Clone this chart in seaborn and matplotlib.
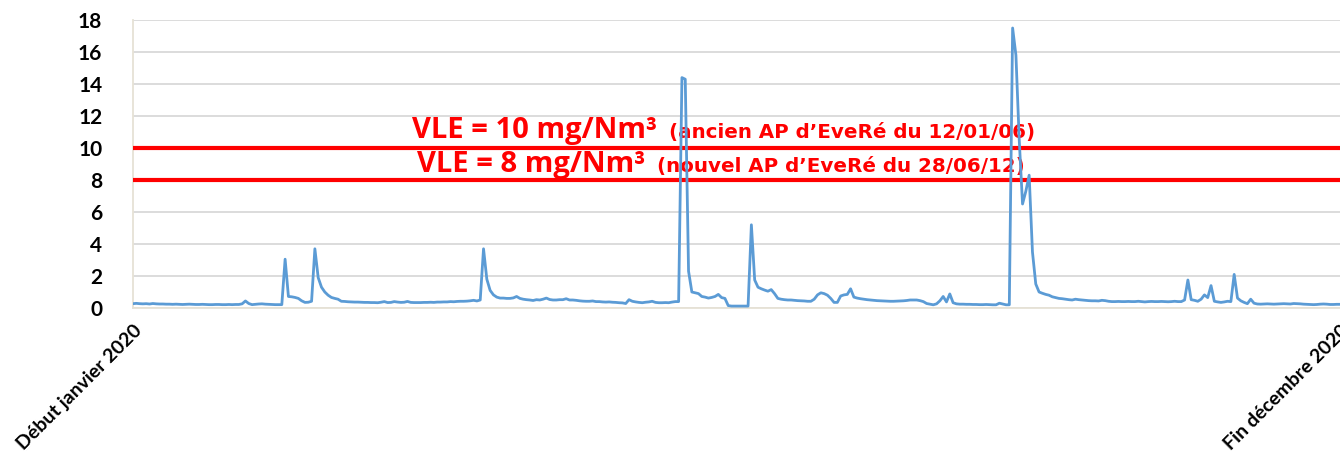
import numpy as np
import pandas as pd
import matplotlib
matplotlib.use("Agg")
import matplotlib.pyplot as plt
import seaborn as sns

# Daily concentration values (mg/Nm³), January to December 2020
conc_jan_mar = [
    0.27, 0.29, 0.27, 0.26, 0.27, 0.25, 0.28, 0.26, 0.25, 0.25,
    0.24, 0.24, 0.23, 0.24, 0.23, 0.22, 0.23, 0.24, 0.23, 0.22,
    0.22, 0.23, 0.22, 0.21, 0.21, 0.22, 0.22, 0.21, 0.21, 0.22,
    0.21, 0.22, 0.22, 0.26, 0.44, 0.28, 0.21, 0.23, 0.25, 0.26,
    0.24, 0.23, 0.22, 0.21, 0.21, 0.21, 3.05, 0.72, 0.70, 0.66,
    0.60, 0.45, 0.35, 0.36, 0.42, 3.70, 1.90, 1.30, 1.00, 0.80,
    0.66, 0.60, 0.55, 0.42, 0.41, 0.39, 0.38, 0.37, 0.37, 0.36,
    0.35, 0.35, 0.34, 0.34, 0.33, 0.36, 0.40, 0.34, 0.35, 0.40,
    0.37, 0.35, 0.36, 0.41, 0.35, 0.34, 0.34, 0.34, 0.35, 0.35,
]
conc_apr_jun = [
    0.36, 0.35, 0.37, 0.37, 0.38, 0.38, 0.40, 0.39, 0.41, 0.42,
    0.42, 0.43, 0.45, 0.48, 0.44, 0.50, 3.70, 1.80, 1.10, 0.82,
    0.68, 0.62, 0.62, 0.60, 0.60, 0.63, 0.72, 0.60, 0.55, 0.52,
    0.50, 0.47, 0.52, 0.50, 0.55, 0.62, 0.53, 0.50, 0.50, 0.52,
    0.52, 0.58, 0.50, 0.50, 0.48, 0.45, 0.43, 0.42, 0.42, 0.44,
    0.40, 0.40, 0.38, 0.37, 0.38, 0.36, 0.35, 0.33, 0.32, 0.28,
    0.52, 0.42, 0.38, 0.35, 0.33, 0.36, 0.38, 0.42, 0.35, 0.33,
    0.33, 0.34, 0.33, 0.37, 0.40, 0.40, 14.40, 14.30, 2.30, 1.00,
    0.95, 0.90, 0.72, 0.68, 0.62, 0.66, 0.72, 0.85, 0.65, 0.60,
]
conc_jul_sep = [
    0.15, 0.12, 0.12, 0.12, 0.12, 0.12, 0.12, 5.20, 1.75, 1.30,
    1.20, 1.12, 1.05, 1.15, 0.90, 0.60, 0.55, 0.52, 0.50, 0.50,
    0.48, 0.46, 0.45, 0.44, 0.42, 0.42, 0.55, 0.82, 0.95, 0.90,
    0.80, 0.60, 0.35, 0.35, 0.75, 0.82, 0.85, 1.20, 0.68, 0.62,
    0.58, 0.55, 0.52, 0.50, 0.48, 0.46, 0.45, 0.44, 0.43, 0.42,
    0.42, 0.43, 0.44, 0.45, 0.47, 0.50, 0.50, 0.50, 0.46, 0.40,
    0.28, 0.24, 0.20, 0.26, 0.45, 0.72, 0.38, 0.88, 0.33, 0.26,
    0.24, 0.24, 0.23, 0.23, 0.22, 0.22, 0.21, 0.21, 0.22, 0.21,
    0.20, 0.20, 0.30, 0.25, 0.20, 0.20, 17.50, 15.80, 10.50, 6.50,
]
conc_oct_dec = [
    7.30, 8.30, 3.50, 1.50, 1.00, 0.92, 0.85, 0.80, 0.70, 0.65,
    0.60, 0.58, 0.55, 0.52, 0.50, 0.55, 0.52, 0.50, 0.48, 0.46,
    0.45, 0.45, 0.44, 0.48, 0.46, 0.42, 0.40, 0.40, 0.41, 0.40,
    0.40, 0.41, 0.40, 0.40, 0.42, 0.40, 0.38, 0.40, 0.41, 0.40,
    0.40, 0.41, 0.40, 0.39, 0.40, 0.42, 0.40, 0.40, 0.50, 1.75,
    0.52, 0.48, 0.42, 0.55, 0.82, 0.65, 1.40, 0.42, 0.38, 0.35,
    0.38, 0.42, 0.40, 2.10, 0.62, 0.45, 0.35, 0.27, 0.55, 0.30,
    0.25, 0.24, 0.25, 0.26, 0.25, 0.24, 0.25, 0.26, 0.27, 0.26,
    0.25, 0.28, 0.27, 0.26, 0.24, 0.23, 0.22, 0.21, 0.22, 0.24,
    0.25, 0.24, 0.22, 0.22, 0.23, 0.23,
]

# Emission limit values (mg/Nm³) and their labels
limit_values = [10, 8]
limit_main_labels = ["VLE = 10 mg/Nm³", "VLE = 8 mg/Nm³"]
limit_notes = ["(ancien AP d’EveRé du 12/01/06)", "(nouvel AP d’EveRé du 28/06/12)"]

x_tick_labels = ["Début janvier 2020", "Fin décembre 2020"]
y_ticks = [0, 2, 4, 6, 8, 10, 12, 14, 16, 18]

conc = conc_jan_mar + conc_apr_jun + conc_jul_sep + conc_oct_dec
df = pd.DataFrame({"jour": np.arange(len(conc)), "concentration": conc})

sns.set_theme(style="white")
plt.rcParams["font.family"] = ["Lato", "DejaVu Sans"]

fig = plt.figure(figsize=(13.4, 4.53), dpi=100)
ax = fig.add_axes([133 / 1340, 1 - 308 / 453, 1 - 133 / 1340, (308 - 20) / 453])

# limit lines
for v in limit_values:
    ax.axhline(v, color="#ff0000", lw=3.0, zorder=3)

sns.lineplot(data=df, x="jour", y="concentration", ax=ax, color="#5b9bd5",
             lw=2.0, zorder=5)

ax.set_xlim(0, len(conc) - 1)
ax.set_ylim(0, 18)
ax.set_yticks(y_ticks)
ax.set_yticklabels([str(t) for t in y_ticks], fontsize=15, fontweight="bold",
                   color="black")
ax.yaxis.grid(True, color="#d9d9d9", lw=1.3)
ax.set_axisbelow(True)
ax.tick_params(axis="y", length=0, pad=22)

ax.set_xticks([0, len(conc) - 1])
ax.set_xticklabels(x_tick_labels, rotation=45, ha="right",
                   rotation_mode="anchor", fontsize=14, fontweight="bold",
                   color="black")
ax.tick_params(axis="x", length=0, pad=10)

ax.set_xlabel("")
ax.set_ylabel("")
for side in ["top", "right"]:
    ax.spines[side].set_visible(False)
for side in ["left", "bottom"]:
    ax.spines[side].set_color("#e6e2d6")
    ax.spines[side].set_linewidth(1.3)

# limit annotations: large main text followed by a smaller note
renderer = fig.canvas.get_renderer()
label_pos = [(84.5, 10.6), (86.0, 8.5)]
gap_pt = 8
for (xd, yd), main, note in zip(label_pos, limit_main_labels, limit_notes):
    t = ax.text(xd, yd, main, color="#ff0000", fontsize=21, fontweight="bold",
                family=["Open Sans", "DejaVu Sans"], ha="left", va="baseline",
                zorder=4)
    w_pt = t.get_window_extent(renderer).width * 72 / fig.dpi + gap_pt
    ax.annotate(note, xy=(xd, yd), xycoords="data", xytext=(w_pt, 0),
                textcoords="offset points", color="#ff0000", fontsize=14.3,
                fontweight="bold", family=["DejaVu Sans"], ha="left",
                va="baseline", zorder=4)

fig.savefig("out.png", dpi=100)
